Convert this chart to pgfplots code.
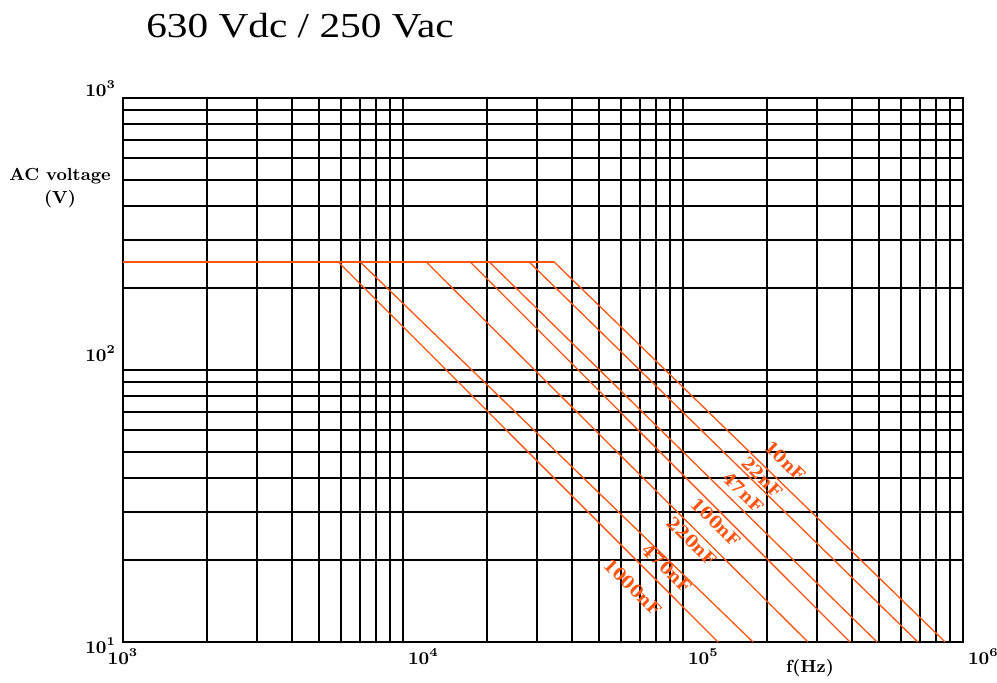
\documentclass[border=0pt]{standalone}
\usepackage{fontspec}
\usepackage{pgfplots}
\pgfplotsset{compat=1.18}
\newfontfamily\titlefont[FakeStretch=1.18]{Liberation Serif}
\newfontfamily\labfont{DejaVu Serif}
\definecolor{capor}{RGB}{255,85,17}
\begin{document}
\begin{tikzpicture}
\useasboundingbox (-61.5pt,-20pt) rectangle (437pt,321pt);
\begin{axis}[
  at={(0,0)}, anchor=south west,
  scale only axis, width=420pt, height=272pt,
  xmode=log, ymode=log,
  xmin=1e3, xmax=1e6, ymin=10, ymax=1000,
  xtick={1e4,1e5,1e6},
  xticklabels={$10^{4}$,$10^{5}$,$10^{6}$},
  extra x ticks={1e3},
  extra x tick labels={$10^{3}$},
  extra x tick style={xticklabel style={anchor=north, xshift=1pt}},
  minor xtick={2e3,3e3,4e3,5e3,6e3,7e3,8e3,9e3,2e4,3e4,4e4,5e4,6e4,7e4,8e4,9e4,2e5,3e5,4e5,5e5,6e5,7e5,8e5,9e5},
  ytick={10,100,1000},
  yticklabels={\raisebox{-5.5pt}{$10^{1}$},\raisebox{4.5pt}{$10^{2}$},\raisebox{1pt}{$10^{3}$}},
  minor ytick={20,30,40,50,60,70,80,90,200,300,400,500,600,700,800,900},
  xticklabel style={anchor=north west, xshift=-1pt},
  yticklabel style={anchor=base east},
  tick label style={font=\fontsize{9}{10}\selectfont\boldmath},
  grid=both,
  major grid style={black, line width=1pt},
  minor grid style={black, line width=1pt},
  axis line style={black, line width=1pt},
  major tick length=0pt, minor tick length=0pt,
]
\addplot[capor, line width=0.75pt] coordinates {(1000,250) (34600,250)};
\addplot[capor, line width=0.65pt] coordinates {(5860,250) (133400,10)};
\addplot[capor, line width=0.65pt] coordinates {(7020,250) (177800,10)};
\addplot[capor, line width=0.65pt] coordinates {(12080,250) (279400,10)};
\addplot[capor, line width=0.65pt] coordinates {(17350,250) (395000,10)};
\addplot[capor, line width=0.65pt] coordinates {(20300,250) (493000,10)};
\addplot[capor, line width=0.65pt] coordinates {(28180,250) (690000,10)};
\addplot[capor, line width=0.65pt] coordinates {(34600,250) (863000,10)};
\end{axis}
\begin{scope}[every node/.style={text=capor, rotate=-44.5, inner sep=0pt, font=\labfont\bfseries\fontsize{8.6}{10}\selectfont}]
\node at (331pt,90.5pt) {10nF};
\node at (319.5pt,82.5pt) {22nF};
\node at (310pt,75pt) {47nF};
\node at (296.5pt,60pt) {100nF};
\node at (284.5pt,50.5pt) {220nF};
\node at (272pt,37pt) {470nF};
\node at (255pt,27.5pt) {1000nF};
\end{scope}
\node[anchor=base] at (88.5pt,302pt) {\titlefont\fontsize{17.5}{20}\selectfont 630 Vdc / 250 Vac};
\node[align=center, font=\bfseries\fontsize{8.75}{11.5}\selectfont] at (-31.5pt,227pt) {AC voltage\\(V)};
\node[font=\bfseries\fontsize{8.75}{11.5}\selectfont] at (343.5pt,-13pt) {f(Hz)};
\end{tikzpicture}
\end{document}
